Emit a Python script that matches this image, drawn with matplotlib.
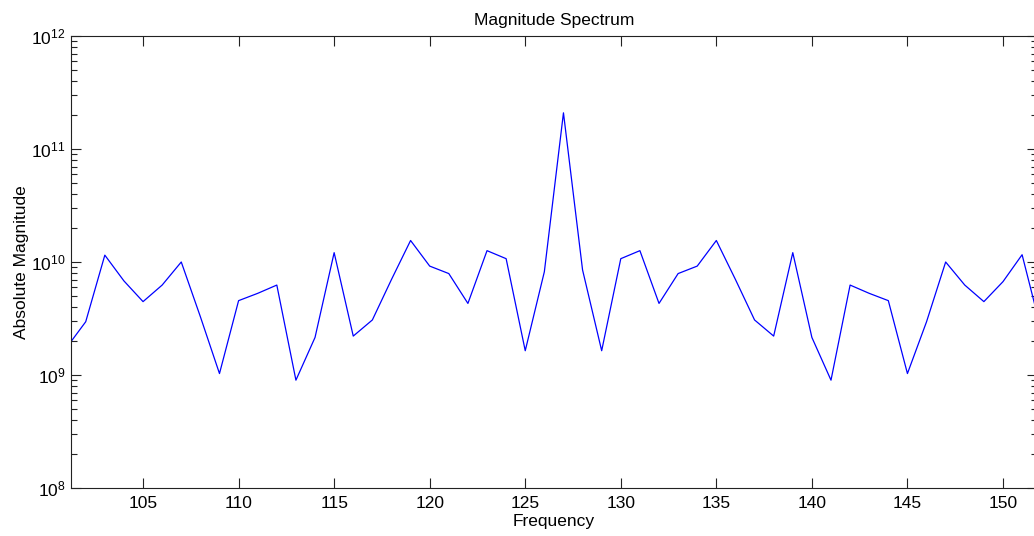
import numpy as np
import matplotlib
matplotlib.use('Agg')
import matplotlib.pyplot as plt
from matplotlib.ticker import LogLocator, NullFormatter, FixedLocator

plt.rcParams['font.family'] = ['Liberation Sans', 'DejaVu Sans']
plt.rcParams['mathtext.fontset'] = 'custom'
plt.rcParams['mathtext.rm'] = 'Liberation Sans'
plt.rcParams['mathtext.it'] = 'Liberation Sans'

# frequency bins and magnitude values
freq = np.arange(101, 153)
mag = [1.75e9, 2.96e9, 1.15e10, 6.8e9, 4.46e9, 6.25e9, 1.0e10, 3.28e9, 1.03e9, 4.55e9,
       5.28e9, 6.25e9, 9.0e8, 2.15e9, 1.21e10, 2.21e9, 3.07e9, 7.0e9, 1.55e10, 9.2e9,
       7.9e9, 4.3e9, 1.26e10, 1.07e10, 1.64e9, 8.2e9, 2.09e11, 8.5e9, 1.64e9, 1.07e10,
       1.26e10, 4.3e9, 7.9e9, 9.2e9, 1.55e10, 7.0e9, 3.07e9, 2.21e9, 1.21e10, 2.15e9,
       9.0e8, 6.25e9, 5.28e9, 4.55e9, 1.03e9, 2.96e9, 1.0e10, 6.25e9, 4.46e9, 6.7e9,
       1.16e10, 2.5e9]
xticks = [105, 110, 115, 120, 125, 130, 135, 140, 145, 150]

W, H = 1034, 536
fig = plt.figure(figsize=(W / 100, H / 100), dpi=100)
ax = fig.add_axes([71 / W, (H - 488) / H, (1037 - 71) / W, (488 - 36) / H])

ax.plot(freq, mag, color='#0000ff', linewidth=0.9)
ax.set_yscale('log')
ax.set_xlim(101.23, 151.78)
ax.set_ylim(1e8, 1e12)

ax.xaxis.set_major_locator(FixedLocator(xticks))
ax.yaxis.set_major_locator(LogLocator(base=10, numticks=10))
ax.yaxis.set_minor_locator(LogLocator(base=10, subs=np.arange(2, 10), numticks=10))
ax.yaxis.set_minor_formatter(NullFormatter())

ax.tick_params(which='both', direction='in', top=True, right=True, labelsize=12.5,
               color='#222222')
ax.tick_params(which='major', length=7.2, width=0.8)
ax.tick_params(which='minor', length=4.1, width=0.8)
ax.tick_params(axis='x', pad=6)
ax.tick_params(axis='y', pad=4)
for s in ax.spines.values():
    s.set_linewidth(0.8)
    s.set_color('#222222')

ax.set_title('Magnitude Spectrum', fontsize=12.5, pad=8)
ax.set_xlabel('Frequency', fontsize=12.5, labelpad=2)
ax.set_ylabel('Absolute Magnitude', fontsize=12.5, labelpad=1)

fig.savefig('out.png', dpi=100)
